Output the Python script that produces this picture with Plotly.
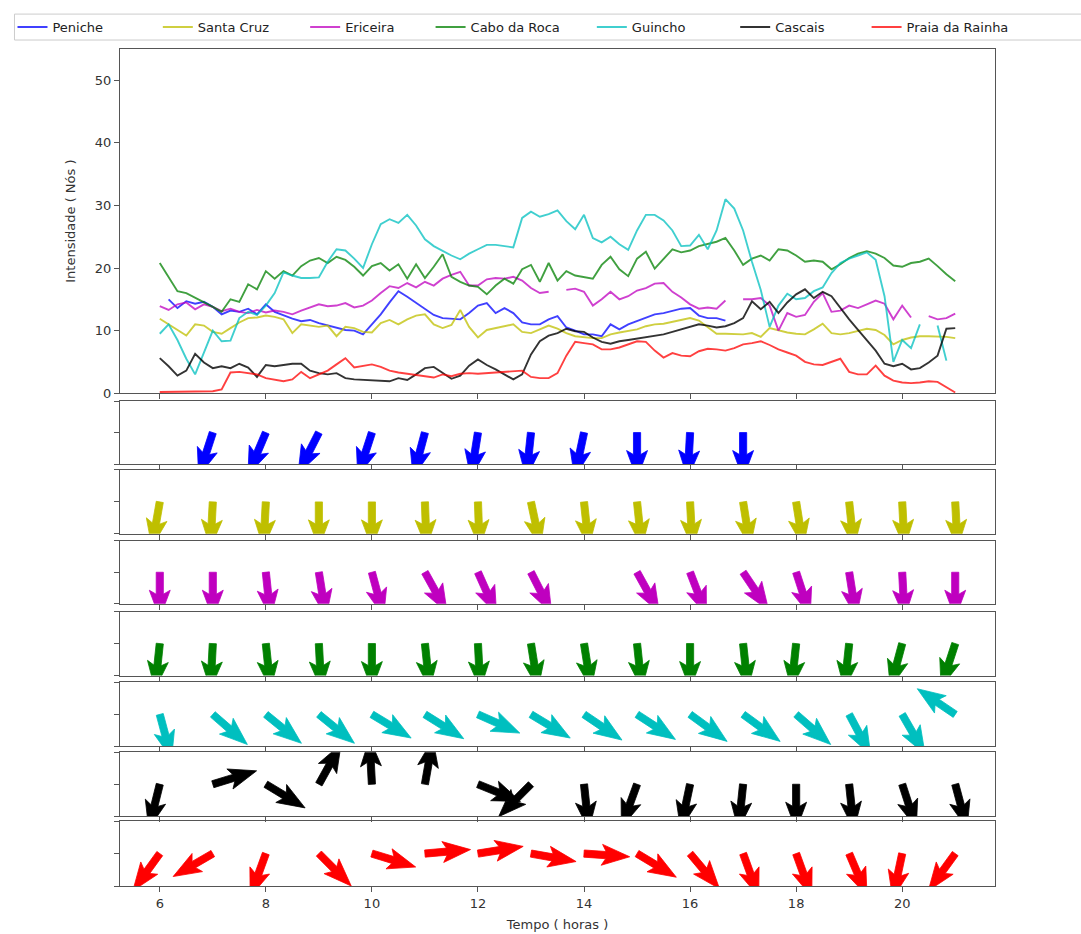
import math
import plotly.graph_objects as go

# ---------------------------------------------------------------------------
# Wind speed (knots), 10-minute readings from 06:00 to 21:00
# ---------------------------------------------------------------------------
horas = [6 + i / 6 for i in range(91)]
N = None

peniche = [N, 15.0, 13.6, 14.7, 14.3, 14.6, 13.8, 12.6, 13.2, 13.0, 13.5, 12.6,
           14.2, 13.0, 12.4, 11.9, 11.5, 11.7, 11.2, 10.8, 10.4, 10.1, 10.0, 9.4,
           11.0, 12.6, 14.5, 16.3, 15.4, 14.4, 13.4, 12.5, 12.0, 11.9, 11.8, 12.8,
           14.0, 14.4, 12.8, 13.6, 12.8, 11.3, 11.0, 11.0, 11.8, 12.3, 10.5, 10.0,
           9.4, 9.4, 9.1, 11.0, 10.2, 11.0, 11.5, 12.1, 12.6, 12.8, 13.1, 13.5,
           13.6, 12.4, 12.0, 12.0, 11.6, N, N, N, N, N, N, N,
           N, N, N, N, N, N, N, N, N, N, N, N,
           N, N, N, N, N, N, N]

santa_cruz = [11.9, 11.0, 10.1, 9.2, 11.0, 10.8, 9.8, 9.5, 10.4, 11.3, 12.0, 12.1,
              12.4, 12.2, 11.8, 9.6, 11.0, 10.8, 10.6, 10.8, 9.1, 10.6, 10.4, 9.8,
              9.7, 11.2, 11.7, 11.0, 11.8, 12.4, 12.6, 11.0, 10.4, 10.9, 13.3, 10.6,
              8.9, 10.1, 10.4, 10.6, 11.0, 9.8, 9.6, 10.2, 10.8, 10.3, 9.6, 9.1,
              8.9, 8.8, 8.8, 9.4, 9.7, 9.9, 10.2, 10.7, 11.0, 11.1, 11.4, 11.8,
              12.0, 11.6, 10.5, 9.5, 9.5, 9.4, 9.4, 9.6, 9.0, 10.4, 10.0, 9.7,
              9.5, 9.4, 10.2, 11.1, 9.6, 9.4, 9.6, 9.9, 10.3, 10.1, 9.3, 7.8,
              8.5, 8.9, 9.1, 9.1, 9.1, 9.0, 8.8]

ericeira = [13.9, 13.3, 14.2, 14.5, 13.4, 14.2, 13.8, 13.1, 13.5, 13.0, 12.8, 13.3,
            12.9, 13.2, 13.0, 12.6, 13.2, 13.7, 14.2, 13.9, 14.0, 14.4, 13.7, 14.0,
            14.8, 16.0, 17.1, 16.8, 17.6, 16.9, 17.8, 17.2, 18.3, 18.9, 19.4, 17.2,
            17.2, 18.2, 18.4, 18.3, 18.6, 18.0, 16.8, 16.0, 16.2, N, 16.5, 16.7,
            16.2, 14.0, 15.0, 16.2, 15.0, 15.5, 16.4, 16.8, 17.5, 17.6, 16.2, 15.3,
            14.2, 13.5, 13.7, 13.5, 14.8, N, 15.0, 15.0, 15.2, 14.0, 10.0, 12.8,
            12.2, 12.5, 14.6, 16.0, 13.0, 13.2, 14.0, 13.6, 14.2, 14.8, 14.3, 11.8,
            14.0, 12.1, N, 12.3, 11.8, 12.0, 12.7]

cabo_da_roca = [20.8, 18.5, 16.3, 16.0, 15.3, 14.6, 13.8, 13.0, 15.0, 14.6, 17.4, 16.6,
                19.5, 18.3, 19.5, 18.8, 20.3, 21.2, 21.6, 20.8, 21.8, 21.3, 20.2, 18.8,
                20.3, 20.8, 19.6, 20.6, 18.3, 20.6, 18.4, 20.2, 22.2, 18.6, 17.8, 17.2,
                17.0, 15.8, 17.2, 18.3, 17.5, 19.8, 20.5, 17.8, 20.8, 18.0, 19.5, 18.8,
                18.5, 18.3, 20.5, 21.8, 19.8, 18.7, 21.5, 22.6, 19.9, 21.5, 23.0, 22.5,
                22.8, 23.5, 23.8, 24.2, 24.8, 22.8, 20.5, 21.5, 22.0, 21.2, 23.0, 22.8,
                22.0, 21.0, 21.2, 21.0, 19.8, 20.6, 21.6, 22.3, 22.7, 22.3, 21.6, 20.4,
                20.2, 20.8, 21.0, 21.5, 20.3, 19.0, 17.9]

guincho = [9.5, 11.0, 8.5, 5.5, 3.0, 6.5, 10.0, 8.3, 8.4, 12.0, 13.0, 12.5,
           14.0, 16.0, 19.3, 18.8, 18.4, 18.4, 18.5, 21.0, 23.0, 22.8, 21.5, 20.0,
           23.8, 27.0, 27.8, 27.2, 28.5, 26.8, 24.6, 23.5, 22.7, 22.0, 21.4, 22.3,
           23.0, 23.7, 23.7, 23.5, 23.3, 28.0, 29.0, 28.2, 28.6, 29.2, 27.5, 26.2,
           28.5, 24.8, 24.1, 25.0, 23.8, 22.9, 26.0, 28.5, 28.5, 27.6, 26.0, 23.5,
           23.6, 25.3, 23.0, 26.0, 31.0, 29.5, 26.0, 21.0, 16.5, 10.6, 14.0, 15.9,
           15.0, 15.2, 16.3, 16.9, 19.2, 20.8, 21.5, 22.0, 22.5, 21.3, 15.5, 5.0,
           8.5, 7.2, 11.0, N, 10.8, 5.2, N]

cascais = [5.6, 4.3, 2.8, 3.6, 6.3, 4.9, 4.0, 4.3, 4.0, 4.7, 4.1, 2.6,
           4.5, 4.3, 4.5, 4.7, 4.7, 3.6, 3.2, 3.0, 3.2, 2.4, 2.2, 2.1,
           2.0, 1.9, 1.9, 2.4, 2.1, 3.0, 4.0, 4.2, 3.2, 2.3, 2.8, 4.4,
           5.4, 4.5, 3.8, 3.0, 2.2, 3.0, 6.2, 8.3, 9.2, 9.6, 10.3, 9.9,
           9.8, 8.9, 8.2, 7.9, 8.3, 8.5, 8.7, 8.9, 9.1, 9.4, 9.8, 10.2,
           10.6, 11.0, 10.8, 10.5, 10.7, 11.2, 12.0, 14.7, 13.4, 14.6, 12.8, 14.5,
           15.8, 16.6, 15.2, 16.2, 15.5, 13.6, 11.8, 10.1, 8.4, 6.8, 4.7, 4.3,
           4.7, 3.8, 4.0, 4.9, 6.0, 10.3, 10.4]

praia_da_rainha = [0.2, 0.2, 0.2, 0.2, 0.2, 0.3, 0.3, 0.6, 3.3, 3.4, 3.2, 3.0,
                   2.4, 2.2, 1.9, 2.2, 3.4, 2.4, 3.0, 3.6, 4.6, 5.6, 4.1, 4.4,
                   4.6, 4.2, 3.6, 3.3, 3.1, 2.9, 2.8, 2.5, 3.0, 2.7, 3.1, 3.2,
                   3.1, 3.2, 3.2, 3.4, 3.4, 3.6, 2.6, 2.4, 2.4, 3.2, 6.0, 8.2,
                   8.0, 7.8, 7.0, 7.0, 7.3, 7.8, 8.3, 8.2, 6.8, 5.7, 6.4, 6.0,
                   5.9, 6.7, 7.1, 7.0, 6.8, 7.2, 7.8, 8.0, 8.3, 7.7, 7.0, 6.5,
                   6.0, 5.0, 4.6, 4.5, 5.0, 5.5, 3.4, 3.0, 3.0, 4.4, 2.8, 2.0,
                   1.7, 1.6, 1.7, 1.9, 1.8, 0.9, 0.1]

# ---------------------------------------------------------------------------
# Hourly wind direction (degrees the wind blows from, clockwise from north)
# ---------------------------------------------------------------------------
horas_dir = list(range(6, 22))
dir_peniche = [N, 18, 23, 27, 18, 15, 9, 6, 12, 0, 3, 0, N, N, N, N]
dir_santa_cruz = [10, 3, 3, 0, 0, 358, 358, 348, 354, 354, 357, 351, 351, 354, 357, 357]
dir_ericeira = [0, 0, 354, 351, 345, 331, 336, 333, N, 331, 339, 326, 342, 351, 357, 0]
dir_cabo_da_roca = [6, 3, 354, 357, 0, 354, 357, 351, 351, 354, 0, 354, 6, 6, 15, 18]
dir_guincho = [345, 311, 309, 309, 301, 302, 294, 301, 304, 303, 306, 306, 311, 332, 330, 124]
dir_cascais = [14, 253, 301, 209, 177, 190, 292, 45, 354, 20, 12, 6, 0, 354, 342, 345]
dir_praia_da_rainha = [36, 60, 20, 315, 287, 265, 261, 280, 274, 301, 320, 340, 340, 337, 12, 36]

estacoes = ["Peniche", "Santa Cruz", "Ericeira", "Cabo da Roca",
            "Guincho", "Cascais", "Praia da Rainha"]
intensidades = [peniche, santa_cruz, ericeira, cabo_da_roca,
                guincho, cascais, praia_da_rainha]
direcoes = [dir_peniche, dir_santa_cruz, dir_ericeira, dir_cabo_da_roca,
            dir_guincho, dir_cascais, dir_praia_da_rainha]
cores = ["#0000ff", "#bfbf00", "#bf00bf", "#008000", "#00bfbf", "#000000", "#ff0000"]
cores_linha = ["rgba(0,0,255,0.75)", "rgba(191,191,0,0.75)", "rgba(191,0,191,0.75)",
               "rgba(0,128,0,0.75)", "rgba(0,191,191,0.75)", "rgba(0,0,0,0.8)",
               "rgba(255,0,0,0.75)"]

# ---------------------------------------------------------------------------
# Geometry
# ---------------------------------------------------------------------------
W, H = 1081, 934
M_L, M_R, M_T, M_B = 116, 86, 47, 48
PLOT_W = W - M_L - M_R
PLOT_H = H - M_T - M_B
X_RANGE = [5.25, 21.75]
Y_DIR = [-1, 1]

def dominio(topo_px, base_px):
    return [(H - M_B - base_px) / PLOT_H, (H - M_B - topo_px) / PLOT_H]

dom_linhas = dominio(47, 392)
dom_setas = [dominio(400, 463), dominio(469, 533), dominio(540, 603),
             dominio(611, 675), dominio(682, 746), dominio(752, 816),
             dominio(821, 886)]

# quiver-style arrow outline in pixels (tail at origin, pointing along +x)
L_SETA, L_CABECA, L_EIXO = 46.0, 28.0, 24.0
MEIA_HASTE, MEIA_CABECA = 3.6, 10.5
contorno = [(0, -MEIA_HASTE), (L_SETA - L_EIXO, -MEIA_HASTE),
            (L_SETA - L_CABECA, -MEIA_CABECA), (L_SETA, 0),
            (L_SETA - L_CABECA, MEIA_CABECA), (L_SETA - L_EIXO, MEIA_HASTE),
            (0, MEIA_HASTE), (0, -MEIA_HASTE)]


def setas(horas_h, graus, altura_px):
    sx = PLOT_W / (X_RANGE[1] - X_RANGE[0])
    sy = altura_px / (Y_DIR[1] - Y_DIR[0])
    xs, ys = [], []
    for h, d in zip(horas_h, graus):
        if d is None:
            continue
        r = math.radians(d)
        ux, uy = -math.sin(r), -math.cos(r)
        px, py = -uy, ux
        for a, b in contorno:
            xs.append(h + (a * ux + b * px) / sx)
            ys.append((a * uy + b * py) / sy)
        xs.append(None)
        ys.append(None)
    return xs, ys


FONTE = dict(family="DejaVu Sans", size=13, color="#333333")
fig = go.Figure()

# --- wind speed lines -------------------------------------------------------
for k, (nome, vals, cor) in enumerate(zip(estacoes, intensidades, cores_linha)):
    fig.add_trace(go.Scatter(
        x=horas, y=vals, mode="lines", name=nome,
        line=dict(color=cor, width=1.9),
        connectgaps=False, xaxis="x", yaxis="y",
        legend="legend" if k == 0 else f"legend{k + 1}",
    ))

# --- wind direction arrows --------------------------------------------------
for k, (graus, cor, dom) in enumerate(zip(direcoes, cores, dom_setas)):
    altura = (dom[1] - dom[0]) * PLOT_H
    xs, ys = setas(horas_dir, graus, altura)
    fig.add_trace(go.Scatter(
        x=xs, y=ys, mode="lines", fill="toself", fillcolor=cor,
        line=dict(color=cor, width=0.8), hoverinfo="skip", showlegend=False,
        xaxis=f"x{k + 2}", yaxis=f"y{k + 2}",
    ))

eixo_comum = dict(showline=True, mirror=True, linecolor="#555555", linewidth=1.2,
                  showgrid=False, zeroline=False, ticks="outside", ticklen=5,
                  tickcolor="#555555", tickfont=FONTE, automargin=False)

layout = dict(
    width=W, height=H, paper_bgcolor="white", plot_bgcolor="white",
    margin=dict(l=M_L, r=M_R, t=M_T, b=M_B),
    font=FONTE,
    xaxis=dict(domain=[0, 1], range=X_RANGE, tickvals=list(range(6, 21, 2)),
               showticklabels=False, anchor="y", **eixo_comum),
    yaxis=dict(domain=dom_linhas, range=[0, 55], tickvals=list(range(0, 51, 10)),
               title=dict(text="Intensidade ( Nós )", font=FONTE, standoff=16),
               anchor="x", **eixo_comum),
)
for k, dom in enumerate(dom_setas):
    ultimo = k == len(dom_setas) - 1
    xa = dict(domain=[0, 1], range=X_RANGE, tickvals=list(range(6, 21, 2)),
              showticklabels=ultimo, anchor=f"y{k + 2}", **eixo_comum)
    if ultimo:
        xa["title"] = dict(text="Tempo ( horas )", font=FONTE, standoff=10)
    layout[f"xaxis{k + 2}"] = xa
    layout[f"yaxis{k + 2}"] = dict(domain=dom, range=Y_DIR, tickvals=[-1, 0, 1],
                                   showticklabels=False, anchor=f"x{k + 2}",
                                   **eixo_comum)

# one legend per station, laid out in a single row above the chart
inicio_texto = [50, 196, 344, 470, 632, 776, 908]
for k, xt in enumerate(inicio_texto):
    chave = "legend" if k == 0 else f"legend{k + 1}"
    layout[chave] = dict(x=(xt - 42 - M_L) / PLOT_W, xanchor="left",
                         y=(H - M_B - 25) / PLOT_H, yanchor="middle",
                         orientation="h", bgcolor="rgba(0,0,0,0)", borderwidth=0,
                         font=dict(family="DejaVu Sans", size=13, color="#222222"),
                         itemwidth=30)

fig.update_layout(**layout)

# legend frame
fig.add_shape(type="rect", xref="paper", yref="paper",
              x0=(10 - M_L) / PLOT_W, x1=(1090 - M_L) / PLOT_W,
              y0=(H - M_B - 38) / PLOT_H, y1=(H - M_B - 12) / PLOT_H,
              line=dict(color="#cccccc", width=1), fillcolor="rgba(0,0,0,0)")

fig.write_html("out.html")
